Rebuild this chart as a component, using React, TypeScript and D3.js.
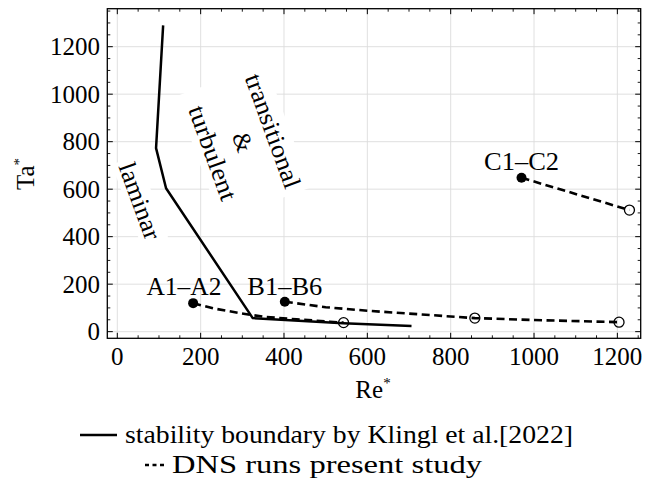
import React from "react";
import * as d3 from "d3";

// Stability boundary (Klingl et al. 2022)
const boundaryRe = [110, 93, 117, 325, 542, 706];
const boundaryTa = [1290, 773, 604, 57, 35, 24];

// DNS runs – series A, B, C (dashed curves)
const runARe = [182, 230, 294, 350, 430, 510, 543];
const runATa = [120, 98, 78, 63, 52, 42, 38];
const runBRe = [402, 500, 600, 700, 858, 1000, 1204];
const runBTa = [126, 103, 88, 76, 57, 49, 40];
const runCRe = [970, 1229];
const runCTa = [648, 512];

// markers
const filledRe = [182, 402, 970];
const filledTa = [120, 126, 648];
const hollowRe = [543, 858, 1204, 1229];
const hollowTa = [38, 57, 40, 512];

// annotations
const runLabels = ["A1–A2", "B1–B6", "C1–C2"];
const runLabelRe = [160, 402, 970];
const runLabelTa = [155, 155, 681];

const xTicks = [0, 200, 400, 600, 800, 1000, 1200];
const yTicks = [0, 200, 400, 600, 800, 1000, 1200];

const legendLabels = ["stability boundary by Klingl et al.[2022]", "DNS runs present study"];

const W = 656;
const H = 481;
const M = { left: 107.3, right: 640.7, top: 8.7, bottom: 338.3 };
const FONT = "'Liberation Serif', 'Times New Roman', serif";

export default function App() {
  const x = d3.scaleLinear().domain([-24, 1256]).range([M.left, M.right]);
  const y = d3.scaleLinear().domain([-28, 1360]).range([M.bottom, M.top]);

  const line = d3
    .line<[number, number]>()
    .x((d) => x(d[0]))
    .y((d) => y(d[1]));

  const zip = (a: number[], b: number[]) => a.map((v, i) => [v, b[i]] as [number, number]);

  const xMinor = d3.range(0, 1256, 50).filter((v) => v % 200 !== 0);
  const yMinor = d3.range(0, 1360, 50).filter((v) => v % 200 !== 0);

  const majorLen = 5.5;
  const minorLen = 3;

  const ang = 70;
  const fs = 25;

  return (
    <svg width={W} height={H} style={{ display: "block", position: "absolute", left: 0, top: 0 }} fontFamily={FONT}>
      <rect x={0} y={0} width={W} height={H} fill="white" />
      {/* grid */}
      {xTicks.map((t) => (
        <line key={"gx" + t} x1={x(t)} x2={x(t)} y1={M.top} y2={M.bottom} stroke="#dcdcdc" strokeWidth={0.9} />
      ))}
      {yTicks.map((t) => (
        <line key={"gy" + t} x1={M.left} x2={M.right} y1={y(t)} y2={y(t)} stroke="#dcdcdc" strokeWidth={0.9} />
      ))}

      {/* region labels with white boxes */}
      <g transform={`translate(140,201) rotate(${ang})`}>
        <rect x={-44} y={-14} width={88} height={28} fill="white" />
        <text x={-40} y={0} dominantBaseline="central" fontSize={fs} textLength={80} lengthAdjust="spacingAndGlyphs">
          laminar
        </text>
      </g>
      <g transform={`translate(243,142) rotate(${ang})`}>
        <rect x={-66} y={-48} width={132} height={96} fill="white" />
        <text x={-60} y={-32} dominantBaseline="central" fontSize={fs} textLength={120} lengthAdjust="spacingAndGlyphs">
          transitional
        </text>
        <text x={0} y={0} textAnchor="middle" dominantBaseline="central" fontSize={fs}>
          &amp;
        </text>
        <text x={-49.5} y={32} dominantBaseline="central" fontSize={fs} textLength={99} lengthAdjust="spacingAndGlyphs">
          turbulent
        </text>
      </g>

      {/* data lines */}
      <path d={line(zip(boundaryRe, boundaryTa)) || ""} fill="none" stroke="black" strokeWidth={2.5} strokeLinejoin="round" />
      {[zip(runARe, runATa), zip(runBRe, runBTa), zip(runCRe, runCTa)].map((pts, i) => (
        <path key={"run" + i} d={line(pts) || ""} fill="none" stroke="black" strokeWidth={2.6} strokeDasharray="8 4.5" />
      ))}
      {filledRe.map((r, i) => (
        <circle key={"f" + i} cx={x(r)} cy={y(filledTa[i])} r={5} fill="black" />
      ))}
      {hollowRe.map((r, i) => (
        <circle key={"h" + i} cx={x(r)} cy={y(hollowTa[i])} r={5} fill="none" stroke="black" strokeWidth={1.3} />
      ))}
      {runLabels.map((l, i) => (
        <text key={"l" + i} x={x(runLabelRe[i]) - 37.5} y={y(runLabelTa[i])} fontSize={fs} textLength={75} lengthAdjust="spacingAndGlyphs">
          {l}
        </text>
      ))}

      {/* ticks */}
      {xTicks.map((t) => (
        <g key={"xt" + t}>
          <line x1={x(t)} x2={x(t)} y1={M.bottom} y2={M.bottom - majorLen} stroke="black" strokeWidth={1} />
          <line x1={x(t)} x2={x(t)} y1={M.top} y2={M.top + majorLen} stroke="black" strokeWidth={1} />
          <text x={x(t)} y={365} textAnchor="middle" fontSize={fs}>
            {t}
          </text>
        </g>
      ))}
      {xMinor.map((t) => (
        <g key={"xm" + t}>
          <line x1={x(t)} x2={x(t)} y1={M.bottom} y2={M.bottom - minorLen} stroke="black" strokeWidth={0.9} />
          <line x1={x(t)} x2={x(t)} y1={M.top} y2={M.top + minorLen} stroke="black" strokeWidth={0.9} />
        </g>
      ))}
      {yTicks.map((t) => (
        <g key={"yt" + t}>
          <line x1={M.left} x2={M.left + majorLen} y1={y(t)} y2={y(t)} stroke="black" strokeWidth={1} />
          <line x1={M.right} x2={M.right - majorLen} y1={y(t)} y2={y(t)} stroke="black" strokeWidth={1} />
          <text x={100} y={y(t) + 8.5} textAnchor="end" fontSize={fs}>
            {t}
          </text>
        </g>
      ))}
      {yMinor.map((t) => (
        <g key={"ym" + t}>
          <line x1={M.left} x2={M.left + minorLen} y1={y(t)} y2={y(t)} stroke="black" strokeWidth={0.9} />
          <line x1={M.right} x2={M.right - minorLen} y1={y(t)} y2={y(t)} stroke="black" strokeWidth={0.9} />
        </g>
      ))}

      {/* frame */}
      <rect x={M.left} y={M.top} width={M.right - M.left} height={M.bottom - M.top} fill="none" stroke="black" strokeWidth={1.3} />

      {/* axis labels */}
      <text x={373} y={398} textAnchor="middle" fontSize={fs}>
        Re<tspan fontSize={15} dy={-10}>*</tspan>
      </text>
      <text transform="translate(34,174) rotate(-90)" textAnchor="middle" fontSize={fs}>
        Ta<tspan fontSize={15} dy={-10}>*</tspan>
      </text>

      {/* legend */}
      <line x1={80} x2={117} y1={435} y2={435} stroke="black" strokeWidth={2.5} />
      <text x={125} y={443} fontSize={fs} textLength={448} lengthAdjust="spacingAndGlyphs">
        {legendLabels[0]}
      </text>
      <line x1={145} x2={164} y1={465} y2={465} stroke="black" strokeWidth={2.5} strokeDasharray="4 3.5" />
      <text x={172} y={473} fontSize={fs} textLength={310} lengthAdjust="spacingAndGlyphs">
        {legendLabels[1]}
      </text>
    </svg>
  );
}
